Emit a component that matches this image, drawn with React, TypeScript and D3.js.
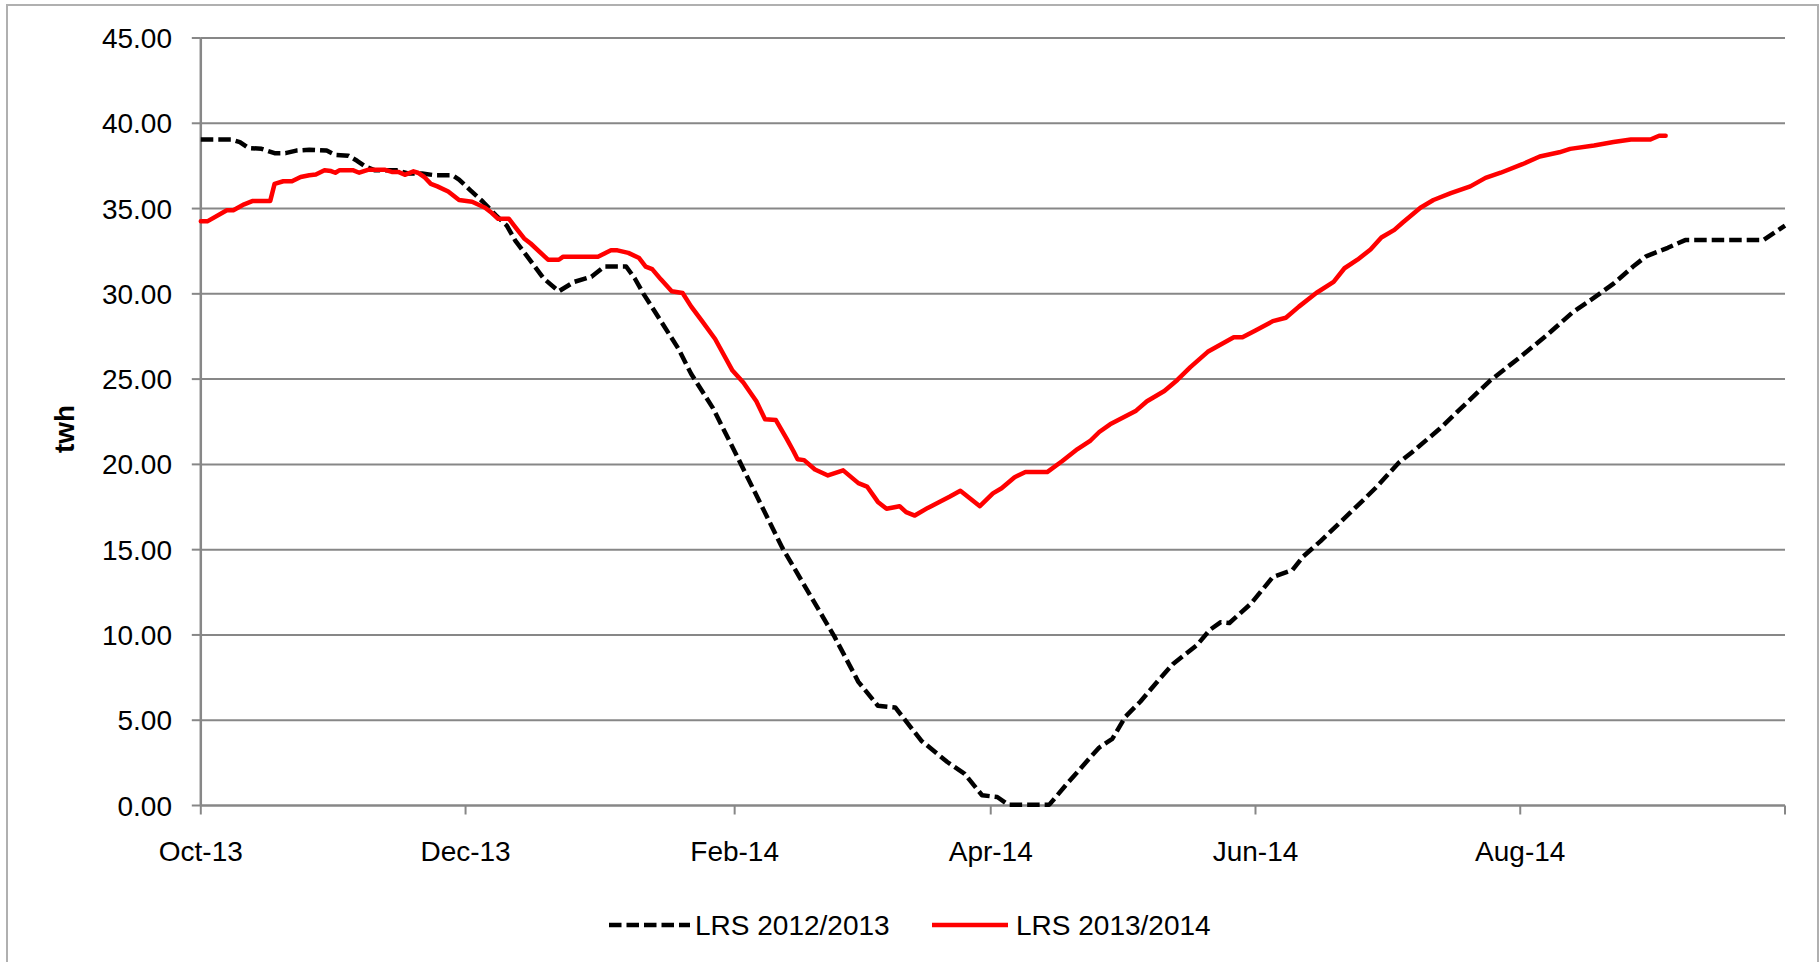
import React from 'react';
import * as d3 from 'd3';

// x values: days since 2013-10-01; y values: twh
const START_DATE = '2013-10-01';
const END_DATE = '2014-10-01';

const yTickValues = [0, 5, 10, 15, 20, 25, 30, 35, 40, 45];
const xTickDates = ['2013-10-01', '2013-12-01', '2014-02-01', '2014-04-01', '2014-06-01', '2014-08-01', '2014-10-01'];
const xTickLabels = ['Oct-13', 'Dec-13', 'Feb-14', 'Apr-14', 'Jun-14', 'Aug-14', ''];
const seriesNames = ['LRS 2012/2013', 'LRS 2013/2014'];
const yAxisTitle = 'twh';

const lrs20122013: [number, number][] = [
  [0, 39.05], [7, 39.05], [9, 38.9], [11, 38.55], [14, 38.5], [17, 38.25], [19.5, 38.25], [22, 38.4], [25, 38.45],
  [29, 38.4], [31, 38.15], [34, 38.1], [36, 37.8], [38, 37.45], [40, 37.25], [45, 37.25], [48, 37.05], [51, 37.05],
  [54, 36.95], [58, 36.95], [59.5, 36.7], [62, 36.1], [65, 35.4], [68, 34.6], [70.5, 34.0], [72.5, 33.1], [75.5, 32.1],
  [79, 30.9], [82.5, 30.15], [86, 30.7], [90, 31.0], [93, 31.6], [98, 31.6], [100, 30.9], [102, 30.0], [106, 28.4],
  [110, 26.8], [113, 25.3], [118, 23.3], [124, 20.25], [134, 15.1], [146, 9.9], [151.5, 7.25], [156, 5.85], [160, 5.75],
  [166, 3.8], [172, 2.55], [176, 1.85], [180, 0.6], [183.5, 0.5], [186, 0.05], [195.5, 0.05], [199.5, 1.25], [204, 2.55],
  [207, 3.4], [210, 3.9], [213, 5.2], [216.5, 6.1], [221, 7.45], [224, 8.3], [229.5, 9.4], [232.5, 10.3], [235, 10.75],
  [237, 10.7], [242, 11.85], [247, 13.4], [251.5, 13.8], [254, 14.6], [258, 15.5], [262.5, 16.6], [268, 17.95], [271, 18.7],
  [276, 20.1], [279, 20.7], [285.5, 22.1], [291, 23.45], [297, 24.9], [304, 26.3], [310, 27.55], [316, 28.9], [322, 29.95],
  [325.5, 30.6], [330, 31.6], [333, 32.2], [338, 32.7], [342, 33.15], [360, 33.15], [365, 34.0],
];

const lrs20132014: [number, number][] = [
  [0, 34.25], [1.5, 34.25], [6, 34.9], [7.5, 34.9], [10, 35.25], [12, 35.45], [16, 35.45], [17, 36.45], [19, 36.6],
  [21, 36.6], [23, 36.85], [25, 36.95], [26.5, 37.0], [28.5, 37.25], [30, 37.2], [31, 37.1], [32, 37.25], [35, 37.25],
  [36.5, 37.1], [38.5, 37.27], [42.5, 37.27], [44, 37.15], [45.5, 37.15], [47, 36.98], [49, 37.18], [50, 37.1],
  [51.5, 36.85], [53, 36.45], [54.5, 36.3], [57, 36.0], [59.5, 35.5], [62.5, 35.4], [65.5, 35.05], [67, 34.75],
  [68.5, 34.4], [71, 34.4], [72.5, 33.9], [74.5, 33.25], [76, 32.95], [80, 32.0], [82.5, 32.0], [83.5, 32.18],
  [91.5, 32.18], [94.5, 32.55], [96, 32.55], [98.5, 32.4], [101, 32.1], [102.5, 31.6], [104, 31.45], [106, 30.85],
  [108.5, 30.15], [111, 30.05], [113, 29.25], [115.5, 28.4], [118.5, 27.35], [122.5, 25.5], [125, 24.8], [128, 23.7],
  [130, 22.65], [132.5, 22.6], [135, 21.5], [136.5, 20.8], [137.5, 20.3], [139, 20.25], [141.5, 19.7], [144.5, 19.35],
  [148, 19.65], [151.5, 18.9], [153.5, 18.7], [156, 17.8], [158, 17.4], [161, 17.55], [162.5, 17.2], [164.5, 17.0],
  [167.5, 17.45], [172.5, 18.1], [175, 18.45], [179.5, 17.55], [182.5, 18.3], [184.5, 18.6], [187.5, 19.25], [190, 19.55],
  [195, 19.55], [198.5, 20.2], [202, 20.9], [205, 21.4], [207, 21.9], [209.5, 22.35], [215.5, 23.15], [218, 23.7],
  [222, 24.3], [225, 24.95], [228, 25.7], [232, 26.6], [238, 27.45], [240, 27.45], [243, 27.85], [247, 28.4], [250, 28.6],
  [253, 29.25], [257, 30.05], [261, 30.7], [263.5, 31.5], [266.5, 32.0], [269.5, 32.6], [272, 33.3], [275, 33.75],
  [277, 34.2], [281, 35.05], [284, 35.5], [288, 35.9], [292.5, 36.3], [296, 36.8], [299.5, 37.1], [304.5, 37.6],
  [308.5, 38.05], [313, 38.3], [315.5, 38.5], [321, 38.7], [325.5, 38.9], [329.5, 39.05], [334, 39.05], [336, 39.27],
  [337.5, 39.27],
];

const FONT = '"Liberation Sans", Arial, Helvetica, sans-serif';
const GRID = '#878787';

export default function App() {
  const W = 1820, H = 962;
  const left = 200.8, right = 1785, top = 38, bottom = 805.5;
  const parse = d3.timeParse('%Y-%m-%d');
  const start = parse(START_DATE) as Date;
  const end = parse(END_DATE) as Date;
  const x = d3.scaleTime().domain([start, end]).range([left, right]);
  const y = d3.scaleLinear().domain([0, 45]).range([bottom, top]);
  const toDate = (d: number) => new Date(start.getTime() + d * 864e5);
  const line = d3.line<[number, number]>()
    .x((d) => x(toDate(d[0])))
    .y((d) => y(d[1]));

  const fmt = d3.format('.2f');
  const legendY = 925;

  return (
    <svg width={W} height={H} style={{ position: 'absolute', left: 0, top: 0, background: '#fff' }} fontFamily={FONT}>
      <rect x={0} y={0} width={W} height={H} fill="#fff" />
      <rect x={7} y={5} width={1811} height={1000} fill="none" stroke="#b0b0b0" strokeWidth={2} />
      {/* gridlines */}
      {yTickValues.map((v) => (
        <g key={v}>
          {v > 0 && <line x1={left} x2={right} y1={y(v)} y2={y(v)} stroke={GRID} strokeWidth={2} />}
          <line x1={left - 9} x2={left} y1={y(v)} y2={y(v)} stroke={GRID} strokeWidth={2} />
          <text x={172} y={y(v)} dy="0.36em" textAnchor="end" fontSize={28} fill="#000">{fmt(v)}</text>
        </g>
      ))}
      {/* axes */}
      <line x1={left} x2={left} y1={top} y2={bottom} stroke={GRID} strokeWidth={2.5} />
      <line x1={left} x2={right} y1={bottom} y2={bottom} stroke={GRID} strokeWidth={2.5} />
      {xTickDates.map((ds, i) => {
        const xp = x(parse(ds) as Date);
        return (
          <g key={ds}>
            <line x1={xp} x2={xp} y1={bottom} y2={bottom + 9} stroke={GRID} strokeWidth={2} />
            <text x={xp} y={861} textAnchor="middle" fontSize={28} fill="#000">{xTickLabels[i]}</text>
          </g>
        );
      })}
      <text transform={`translate(74, 429) rotate(-90)`} textAnchor="middle" fontSize={28} fontWeight="bold" fill="#000">{yAxisTitle}</text>
      {/* series */}
      <path d={line(lrs20122013) || ''} fill="none" stroke="#000" strokeWidth={4.5} strokeDasharray="12.5 5" strokeLinejoin="round" />
      <path d={line(lrs20132014) || ''} fill="none" stroke="#ff0000" strokeWidth={4.5} strokeLinejoin="round" strokeLinecap="round" />
      {/* legend */}
      <line x1={609} x2={690} y1={legendY} y2={legendY} stroke="#000" strokeWidth={4.5} strokeDasharray="12.5 5" />
      <text x={695} y={legendY} dy="0.36em" fontSize={28} fill="#000">{seriesNames[0]}</text>
      <line x1={932} x2={1008} y1={legendY} y2={legendY} stroke="#ff0000" strokeWidth={4.5} />
      <text x={1016} y={legendY} dy="0.36em" fontSize={28} fill="#000">{seriesNames[1]}</text>
    </svg>
  );
}
